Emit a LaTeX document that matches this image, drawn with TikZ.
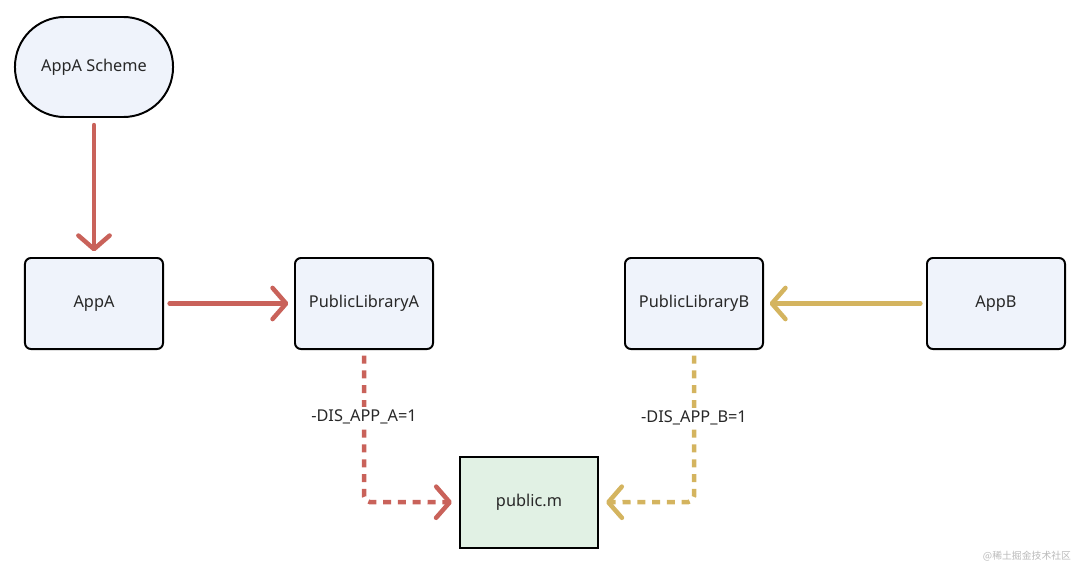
\documentclass[tikz,border=0pt]{standalone}
\usepackage{fontspec}
\setmainfont{Noto Sans}
\newfontfamily\cjkfont{Noto Sans CJK SC}
\usepackage{tikz}
\usetikzlibrary{arrows.meta, positioning, calc}
\definecolor{LinkRot}{RGB}{201,98,90}
\definecolor{LinkGelb}{RGB}{212,180,95}
\definecolor{BoxBlau}{RGB}{239,243,251}
\definecolor{BoxGruen}{RGB}{225,241,228}
\definecolor{Schrift}{RGB}{40,40,40}

\tikzset{
    box/.style={shape=rectangle, draw=black, line width=1.4pt, fill=BoxBlau,
        minimum width=3.45cm, minimum height=2.275cm, rounded corners=0.15cm,
        text=Schrift, font=\fontsize{11.6}{13}\selectfont},
    link/.style={line width=3.2pt, line cap=round,
        -{Straight Barb[length=0.34cm, width=0.78cm, round]}},
    dlink/.style={link, dash pattern=on 0.2cm off 0.17cm, line cap=butt},
    flag/.style={fill=white, inner sep=2pt, text=Schrift, font=\fontsize{11.6}{13}\selectfont}
}

\begin{document}
\begin{tikzpicture}[x=0.025cm, y=-0.025cm]
    \useasboundingbox (0,0) rectangle (1080,566);
    \node[box, minimum width=3.95cm, minimum height=2.5cm, rounded corners=1.24cm] (S) at (94, 67) {AppA Scheme};
    \node[box] (A)  at ( 94, 303.5) {AppA};
    \node[box] (LA) at (364, 303.5) {PublicLibraryA};
    \node[box] (LB) at (694, 303.5) {PublicLibraryB};
    \node[box] (B)  at (996, 303.5) {AppB};
    \node[box, fill=BoxGruen, rounded corners=0pt] (P) at (529, 502.5) {public.m};

    \coordinate (CA) at (364, 502);
    \coordinate (CB) at (694, 502);

    \path[link, LinkRot]  (S)  edge[shorten <=5pt, shorten >=4pt] (A);
    \path[link, LinkRot]  (A)  edge[shorten <=4pt, shorten >=4pt] (LA);
    \path[link, LinkGelb] (B)  edge[shorten <=4pt, shorten >=4pt] (LB);

    \draw[dlink, LinkRot, rounded corners=4pt, shorten <=4pt, shorten >=5pt] (LA) -- (CA) -- (P);
    \draw[dlink, LinkGelb, rounded corners=4pt, shorten <=4pt, shorten >=5pt] (LB) -- (CB) -- (P);

    \node[flag] (FA) at (364, 417) {-DIS\_APP\_A=1};
    \node[flag] (FB) at (694, 418) {-DIS\_APP\_B=1};

    \node[text=black!27, font=\cjkfont\fontsize{7}{8}\selectfont, anchor=east] (W) at (1076, 556) {@稀土掘金技术社区};
\end{tikzpicture}
\end{document}
